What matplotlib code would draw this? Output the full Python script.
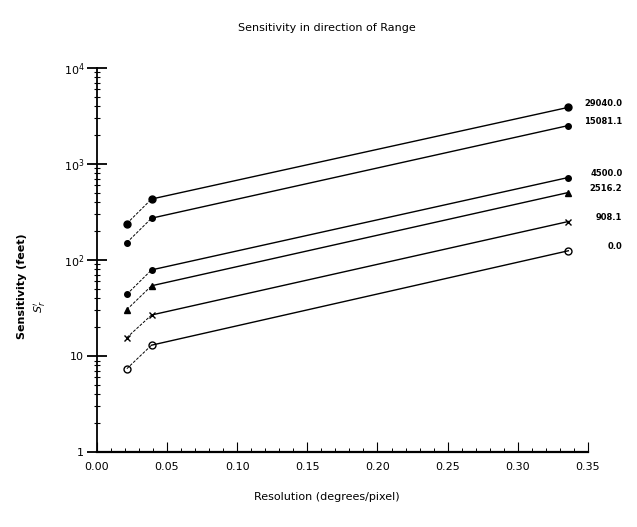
import numpy as np
import matplotlib.pyplot as plt
from matplotlib.ticker import FixedLocator, MultipleLocator, LogLocator, NullFormatter

# resolution (degrees/pixel) at which sensitivity was evaluated
resolution = [0.0214, 0.039, 0.336]

# series labels (range values) and sensitivity (feet)
range_labels = ["29040.0", "15081.1", "4500.0", "2516.2", "908.1", "0.0"]
sens_29040 = [240, 432, 3890]
sens_15081 = [152, 273, 2515]
sens_4500 = [44, 79, 724]
sens_2516 = [30.5, 54, 505]
sens_908 = [15.6, 26.8, 252]
sens_0 = [7.4, 13, 125]

x_ticks = [0.00, 0.05, 0.10, 0.15, 0.20, 0.25, 0.30, 0.35]
x_ticklabels = ["0.00", "0.05", "0.10", "0.15", "0.20", "0.25", "0.30", "0.35"]

series = [sens_29040, sens_15081, sens_4500, sens_2516, sens_908, sens_0]
markers = [("o", 5, "k"), ("o", 4, "k"), ("o", 4, "k"), ("^", 4, "k"), ("x", 5, "k"), ("o", 5, "none")]

fig = plt.figure(figsize=(6.37, 5.27), dpi=100)
ax = fig.add_axes([0.152, 0.142, 0.771, 0.729])

for vals, lab, (m, ms, fc) in zip(series, range_labels, markers):
    # first short segment is lighter/dashed, main segment solid
    ax.plot(resolution[:2], vals[:2], color="k", lw=0.7, ls=(0, (3, 1.5)))
    ax.plot(resolution[1:], vals[1:], color="k", lw=1.0)
    ax.plot(resolution, vals, ls="none", marker=m, ms=ms, mfc=fc, mec="k", mew=1.0)
    ax.annotate(lab, (resolution[-1], vals[-1]), xytext=(39, 3), textcoords="offset points",
                ha="right", va="center", fontsize=6, fontweight="bold")

ax.set_yscale("log")
ax.set_ylim(1, 1e4)
ax.set_xlim(0, 0.35)

ax.spines["top"].set_visible(False)
ax.spines["right"].set_visible(False)
ax.spines["left"].set_linewidth(1.3)
ax.spines["bottom"].set_linewidth(1.6)

ax.yaxis.set_major_locator(FixedLocator([1, 10, 100, 1000, 10000]))
ax.set_yticklabels(["1", "10", "$10^2$", "$10^3$", "$10^4$"], fontsize=8)
ax.yaxis.set_minor_locator(LogLocator(base=10, subs=np.arange(2, 10)))
ax.yaxis.set_minor_formatter(NullFormatter())
ax.tick_params(axis="y", which="major", direction="inout", length=14, width=1.3, pad=2)
ax.tick_params(axis="y", which="minor", direction="inout", length=4, width=0.8)

ax.set_xticks(x_ticks)
ax.set_xticklabels(x_ticklabels, fontsize=8)
ax.xaxis.set_minor_locator(MultipleLocator(0.01))
ax.tick_params(axis="x", which="major", direction="in", length=7, width=0.8, pad=7)
ax.tick_params(axis="x", which="minor", direction="in", length=3, width=0.7)

fig.text(0.513, 0.947, "Sensitivity in direction of Range", ha="center", va="center", fontsize=8)
fig.text(0.513, 0.057, "Resolution (degrees/pixel)", ha="center", va="center", fontsize=8)
fig.text(0.035, 0.457, "Sensitivity (feet)", rotation=90, ha="center", va="center",
         fontsize=8, fontweight="bold")
fig.text(0.063, 0.418, r"$S_r^{\prime}$", rotation=90, ha="center", va="center", fontsize=8)

fig.savefig("out.png", dpi=100)
